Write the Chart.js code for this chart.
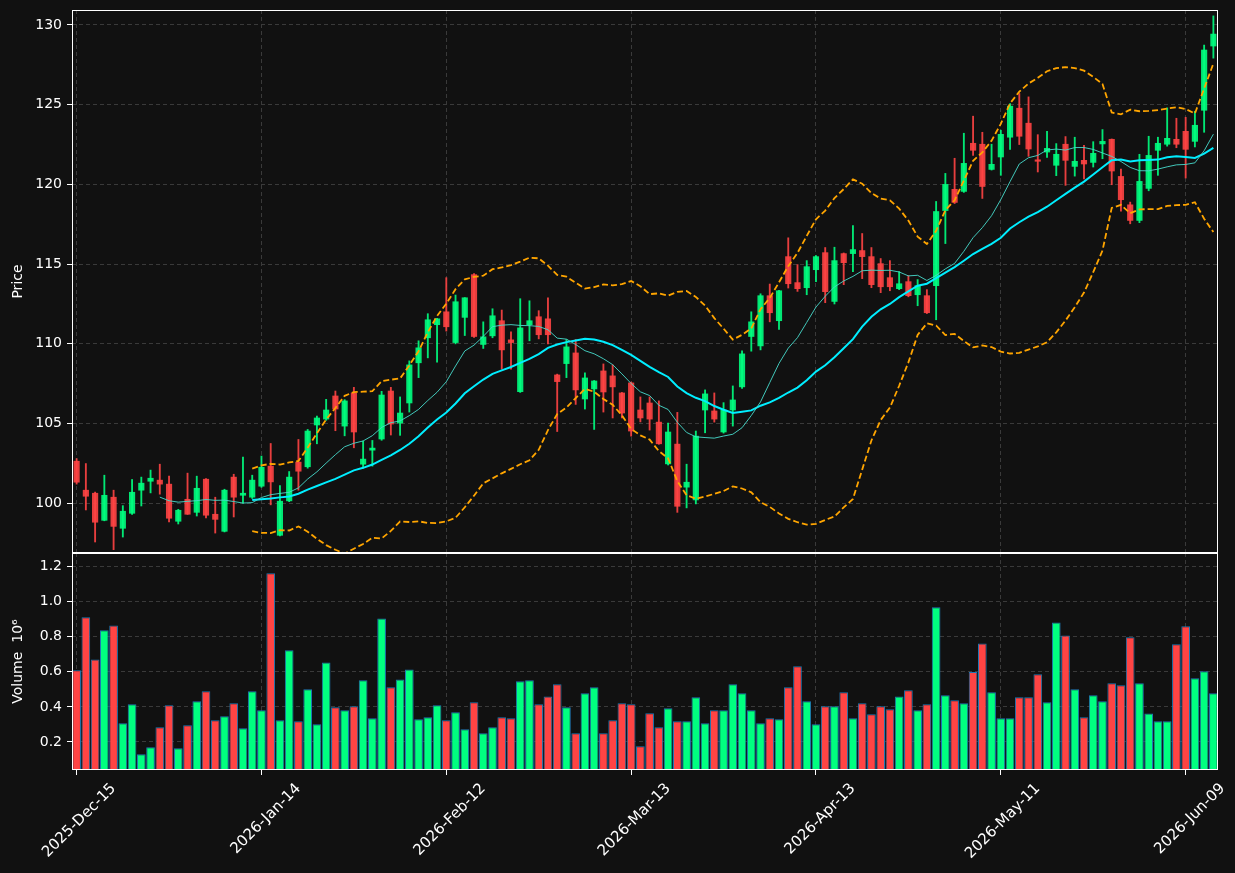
<!DOCTYPE html>
<html>
<head>
<meta charset="utf-8">
<script src="https://cdn.jsdelivr.net/npm/chart.js@4"></script>
<style>
html, body { margin: 0; padding: 0; background: #111111; }
#wrap { position: relative; width: 1235px; height: 873px; }
#priceChart { position: absolute; left: 0; top: 0; }
#volChart { position: absolute; left: 0; top: 553px; }
</style>
</head>
<body>
<div id="wrap">
  <canvas id="priceChart" width="1235" height="553"></canvas>
  <canvas id="volChart" width="1235" height="320"></canvas>
</div>
<script>
var dates = [
  '2025-Dec-15','2025-Dec-16','2025-Dec-17','2025-Dec-18','2025-Dec-19','2025-Dec-22','2025-Dec-23','2025-Dec-24','2025-Dec-26','2025-Dec-29','2025-Dec-30','2025-Dec-31',
  '2026-Jan-02','2026-Jan-05','2026-Jan-06','2026-Jan-07','2026-Jan-08','2026-Jan-09','2026-Jan-12','2026-Jan-13','2026-Jan-14','2026-Jan-15','2026-Jan-16','2026-Jan-20','2026-Jan-21','2026-Jan-22','2026-Jan-23','2026-Jan-26','2026-Jan-27','2026-Jan-28','2026-Jan-29','2026-Jan-30',
  '2026-Feb-02','2026-Feb-03','2026-Feb-04','2026-Feb-05','2026-Feb-06','2026-Feb-09','2026-Feb-10','2026-Feb-11','2026-Feb-12','2026-Feb-13','2026-Feb-17','2026-Feb-18','2026-Feb-19','2026-Feb-20','2026-Feb-23','2026-Feb-24','2026-Feb-25','2026-Feb-26','2026-Feb-27',
  '2026-Mar-02','2026-Mar-03','2026-Mar-04','2026-Mar-05','2026-Mar-06','2026-Mar-09','2026-Mar-10','2026-Mar-11','2026-Mar-12','2026-Mar-13','2026-Mar-16','2026-Mar-17','2026-Mar-18','2026-Mar-19','2026-Mar-20','2026-Mar-23','2026-Mar-24','2026-Mar-25','2026-Mar-26','2026-Mar-27','2026-Mar-30','2026-Mar-31',
  '2026-Apr-01','2026-Apr-02','2026-Apr-06','2026-Apr-07','2026-Apr-08','2026-Apr-09','2026-Apr-10','2026-Apr-13','2026-Apr-14','2026-Apr-15','2026-Apr-16','2026-Apr-17','2026-Apr-20','2026-Apr-21','2026-Apr-22','2026-Apr-23','2026-Apr-24','2026-Apr-27','2026-Apr-28','2026-Apr-29','2026-Apr-30',
  '2026-May-01','2026-May-04','2026-May-05','2026-May-06','2026-May-07','2026-May-08','2026-May-11','2026-May-12','2026-May-13','2026-May-14','2026-May-15','2026-May-18','2026-May-19','2026-May-20','2026-May-21','2026-May-22','2026-May-26','2026-May-27','2026-May-28','2026-May-29',
  '2026-Jun-01','2026-Jun-02','2026-Jun-03','2026-Jun-04','2026-Jun-05','2026-Jun-08','2026-Jun-09','2026-Jun-10','2026-Jun-11','2026-Jun-12'
];

var opens = [
  102.64, 100.82, 100.63, 98.93, 100.38, 98.43, 99.37, 100.82, 101.38, 101.45,
  101.2, 98.87, 100.25, 99.43, 101.51, 99.31, 98.24, 101.64, 100.5, 100.38,
  101.07, 102.33, 97.99, 100.15, 102.58, 102.29, 104.91, 105.28, 106.73, 104.84,
  106.92, 102.45, 103.33, 104.03, 107.04, 105.03, 106.29, 108.81, 110.38, 111.2,
  112.01, 110.08, 111.66, 114.34, 109.96, 110.5, 111.45, 110.25, 107.0, 111.2,
  111.7, 111.57, 108.05, 108.76, 109.43, 106.54, 107.17, 108.3, 107.99, 106.92,
  107.55, 105.85, 106.29, 105.09, 102.47, 103.71, 101.01, 100.21, 105.85, 105.79,
  104.47, 105.85, 107.3, 110.46, 109.87, 113.02, 111.45, 115.47, 113.84, 113.52,
  114.65, 115.72, 112.66, 115.66, 115.66, 115.85, 115.47, 115.03, 114.15, 113.46,
  113.9, 113.08, 113.02, 113.65, 118.36, 119.69, 119.56, 122.58, 122.52, 120.94,
  121.72, 122.96, 124.78, 123.84, 121.5, 122.03, 121.2, 122.52, 121.13, 121.51,
  121.38, 122.54, 122.83, 120.5, 118.72, 117.74, 119.75, 122.14, 122.52, 122.83,
  123.33, 122.7, 124.65, 128.68
];
var highs = [
  102.8, 102.49, 100.7, 101.76, 100.82, 99.85, 101.49, 101.64, 102.08, 102.45,
  101.7, 99.62, 101.89, 101.7, 101.55, 100.38, 100.88, 101.82, 102.89, 101.76,
  102.96, 103.75, 101.11, 101.99, 104.0, 104.63, 105.47, 106.52, 107.04, 106.5,
  107.27, 103.9, 103.94, 107.02, 107.27, 106.67, 108.93, 110.19, 111.89, 111.6,
  114.15, 113.06, 112.9, 114.4, 111.38, 112.2, 112.12, 110.75, 112.83, 112.7,
  112.08, 112.89, 108.1, 110.27, 110.27, 108.18, 107.7, 108.74, 108.68, 106.95,
  107.6, 106.67, 106.67, 106.42, 105.03, 105.7, 102.45, 104.53, 107.11, 106.92,
  106.31, 107.36, 109.56, 112.01, 113.14, 113.75, 113.35, 116.65, 114.97, 115.22,
  115.53, 116.04, 116.06, 115.7, 117.42, 116.92, 116.04, 115.35, 115.22, 114.53,
  114.28, 114.03, 113.4, 118.93, 120.69, 121.64, 123.21, 124.28, 123.27, 122.52,
  123.4, 125.07, 125.7, 125.49, 123.12, 123.33, 122.56, 123.0, 122.96, 122.45,
  122.68, 123.44, 122.85, 120.96, 118.89, 121.89, 123.02, 122.96, 124.8, 124.15,
  124.21, 124.59, 128.74, 130.57
];
var lows = [
  101.2, 99.58, 97.57, 98.9, 97.09, 97.88, 99.3, 99.83, 100.65, 100.57,
  98.83, 98.7, 99.3, 99.2, 99.08, 98.13, 98.2, 99.14, 100.0, 100.3,
  101.0, 99.9, 97.95, 100.1, 100.82, 102.2, 103.73, 105.2, 104.55, 104.23,
  103.48, 102.2, 102.33, 103.95, 104.28, 104.26, 105.72, 107.88, 109.12, 108.85,
  110.8, 110.0, 110.52, 110.4, 109.71, 110.38, 108.41, 108.41, 106.95, 110.19,
  110.31, 110.0, 104.5, 107.88, 106.2, 105.91, 104.63, 105.72, 105.35, 105.35,
  104.21, 105.1, 104.59, 103.7, 102.4, 99.43, 99.71, 99.96, 104.42, 105.09,
  104.4, 104.84, 107.2, 109.54, 109.62, 111.38, 110.9, 113.5, 113.29, 113.08,
  113.9, 112.58, 112.5, 113.71, 114.53, 114.09, 113.52, 113.21, 113.33, 113.4,
  112.95, 112.39, 111.9, 111.51, 116.29, 118.8, 119.5, 121.82, 119.12, 120.9,
  120.57, 122.2, 122.5, 121.76, 120.78, 121.7, 120.55, 119.94, 120.52, 120.34,
  121.09, 121.61, 119.98, 118.32, 117.53, 117.6, 119.6, 120.57, 122.4, 122.3,
  120.4, 122.35, 123.27, 127.92
];
var closes = [
  101.32, 100.44, 98.81, 100.5, 98.55, 99.5, 100.69, 101.26, 101.57, 101.2,
  99.06, 99.56, 99.31, 100.94, 99.25, 98.99, 100.82, 100.38, 100.63, 101.45,
  102.26, 101.34, 100.13, 101.64, 102.01, 104.53, 105.35, 105.85, 105.91, 106.42,
  104.47, 102.77, 103.46, 106.79, 104.97, 105.66, 108.68, 109.75, 111.51, 111.57,
  111.07, 112.64, 112.89, 110.46, 110.44, 111.76, 109.62, 110.08, 111.0, 111.45,
  110.57, 110.57, 107.63, 109.81, 107.11, 107.86, 107.67, 106.98, 107.3, 105.66,
  104.53, 105.35, 105.28, 103.73, 104.47, 99.81, 101.32, 104.21, 106.86, 105.28,
  105.85, 106.48, 109.37, 111.38, 113.02, 111.95, 113.33, 113.77, 113.46, 114.84,
  115.47, 113.27, 115.22, 115.09, 115.91, 115.47, 113.71, 113.58, 113.58, 113.77,
  113.02, 113.65, 111.95, 118.3, 120.0, 118.87, 121.32, 122.14, 119.87, 121.26,
  123.14, 124.91, 123.02, 122.22, 121.45, 122.26, 121.89, 121.51, 121.45, 121.28,
  121.95, 122.7, 120.84, 119.04, 117.74, 120.19, 121.82, 122.58, 122.89, 122.52,
  122.2, 123.71, 128.43, 129.43
];
// volume in millions
var volumes = [
  0.609, 0.911, 0.671, 0.837, 0.865, 0.306, 0.415, 0.130, 0.170, 0.284,
  0.409, 0.164, 0.295, 0.432, 0.489, 0.324, 0.346, 0.421, 0.278, 0.489,
  0.381, 1.162, 0.324, 0.723, 0.318, 0.500, 0.301, 0.654, 0.398, 0.381,
  0.403, 0.552, 0.335, 0.905, 0.512, 0.557, 0.614, 0.329, 0.341, 0.409,
  0.324, 0.369, 0.272, 0.426, 0.249, 0.284, 0.341, 0.335, 0.546, 0.552,
  0.415, 0.460, 0.529, 0.398, 0.249, 0.478, 0.512, 0.249, 0.324, 0.421,
  0.415, 0.175, 0.364, 0.284, 0.392, 0.318, 0.318, 0.455, 0.306, 0.381,
  0.381, 0.529, 0.478, 0.381, 0.306, 0.335, 0.329, 0.512, 0.632, 0.432,
  0.301, 0.403, 0.403, 0.483, 0.335, 0.421, 0.358, 0.403, 0.386, 0.460,
  0.495, 0.381, 0.415, 0.968, 0.466, 0.438, 0.421, 0.599, 0.762, 0.483,
  0.335, 0.335, 0.455, 0.455, 0.586, 0.426, 0.882, 0.808, 0.500, 0.341,
  0.466, 0.432, 0.535, 0.524, 0.798, 0.535, 0.363, 0.318, 0.318, 0.757,
  0.860, 0.563, 0.603, 0.478
];

// moving averages / bollinger bands, same as the plotting lib does it
function rollingMean(arr, n) {
  return arr.map(function(v, i) {
    if (i < n - 1) return null;
    var s = 0;
    for (var k = i - n + 1; k <= i; k++) s += arr[k];
    return s / n;
  });
}
function rollingStd(arr, n) {
  var m = rollingMean(arr, n);
  return arr.map(function(v, i) {
    if (i < n - 1) return null;
    var s = 0;
    for (var k = i - n + 1; k <= i; k++) s += (arr[k] - m[i]) * (arr[k] - m[i]);
    return Math.sqrt(s / (n - 1));
  });
}
var ma10 = rollingMean(closes, 10);
var ma20 = rollingMean(closes, 20);
var sd20 = rollingStd(closes, 20);
var bbUpper = ma20.map(function(m, i) { return m === null ? null : m + 2 * sd20[i]; });
var bbLower = ma20.map(function(m, i) { return m === null ? null : m - 2 * sd20[i]; });

var isUp = closes.map(function(c, i) { return c >= opens[i]; });
var candleColors = isUp.map(function(u) { return u ? 'rgba(0,255,128,0.9)' : 'rgba(255,68,68,0.9)'; });
var volColors = isUp.map(function(u) { return u ? '#00ff80' : '#ff4444'; });

Chart.defaults.font.family = 'DejaVu Sans';
Chart.defaults.font.size = 14;
Chart.defaults.color = '#ffffff';

var gridColor = '#3a3a3a';
var noColor = 'rgba(0,0,0,0)';
function xGrid(c) { return c.index % 20 === 0 ? gridColor : noColor; }
function xTick(c) { return c.index % 20 === 0 ? '#ffffff' : noColor; }

// fixed axis boxes so both panels line up like the subplots do
function fixY(s) {
  s.width = 72;
  s.paddingTop = 0; s.paddingBottom = 0; s.paddingLeft = 0; s.paddingRight = 0;
}
function fixX(h) {
  return function(s) {
    s.height = h;
    s.paddingTop = 0; s.paddingBottom = 0; s.paddingLeft = 0; s.paddingRight = 0;
  };
}

var frame = {
  id: 'frame',
  afterDraw: function(chart) {
    var a = chart.chartArea, g = chart.ctx;
    g.save();
    g.strokeStyle = '#ffffff';
    g.lineWidth = 1;
    g.strokeRect(Math.round(a.left) + 0.5, Math.round(a.top) + 0.5,
      Math.round(a.right - a.left) - 1, Math.round(a.bottom - a.top) - 1);
    g.restore();
  }
};

var ohlcWick = lows.map(function(l, i) { return [l, highs[i]]; });
var ohlcBody = opens.map(function(o, i) { return [o, closes[i]]; });

var priceChart = new Chart(document.getElementById('priceChart'), {
  type: 'bar',
  data: {
    labels: dates,
    datasets: [{
      type: 'line', label: 'MA10', data: ma10,
      borderColor: 'rgba(72,220,205,0.9)', borderWidth: 1, pointRadius: 0, tension: 0, order: 1
    }, {
      type: 'line', label: 'MA20', data: ma20,
      borderColor: '#00eeff', borderWidth: 2, pointRadius: 0, tension: 0, order: 1
    }, {
      type: 'line', label: 'BB upper', data: bbUpper,
      borderColor: '#ffa500', borderWidth: 1.8, borderDash: [6, 3], pointRadius: 0, tension: 0, order: 0
    }, {
      type: 'line', label: 'BB lower', data: bbLower,
      borderColor: '#ffa500', borderWidth: 1.8, borderDash: [6, 3], pointRadius: 0, tension: 0, order: 0
    }, {
      label: 'wick', data: ohlcWick, backgroundColor: candleColors,
      barThickness: 1.2, grouped: false, order: 3
    }, {
      label: 'body', data: ohlcBody, backgroundColor: candleColors,
      barThickness: 5.5, minBarLength: 1.5, grouped: false, order: 2
    }]
  },
  options: {
    responsive: false,
    animation: false,
    layout: { padding: { top: 10, right: 17, left: 0, bottom: 0 } },
    plugins: { legend: { display: false }, tooltip: { enabled: false } },
    scales: {
      x: {
        offset: true,
        grid: { offset: false, color: xGrid, drawTicks: false },
        border: { display: false, dash: [4, 3] },
        ticks: { display: false, autoSkip: false },
        afterFit: fixX(0)
      },
      y: {
        min: 96.88,
        max: 130.94,
        ticks: {
          stepSize: 5, includeBounds: false, padding: 5, color: '#ffffff',
          callback: function(v) { return v.toFixed(0); }
        },
        grid: { color: gridColor, tickColor: '#ffffff', tickLength: 5, tickBorderDash: [] },
        border: { display: false, dash: [4, 3] },
        title: { display: true, text: 'Price', color: '#ffffff', padding: { top: 10, bottom: 0 } },
        afterFit: fixY
      }
    }
  },
  plugins: [frame]
});

var volChart = new Chart(document.getElementById('volChart'), {
  type: 'bar',
  data: {
    labels: dates,
    datasets: [{
      label: 'Volume', data: volumes,
      backgroundColor: volColors, borderColor: '#1f77b4', borderWidth: 1,
      barPercentage: 0.94, categoryPercentage: 1
    }]
  },
  options: {
    responsive: false,
    animation: false,
    layout: { padding: { top: 0, right: 17, left: 0, bottom: 0 } },
    plugins: { legend: { display: false }, tooltip: { enabled: false } },
    scales: {
      x: {
        offset: true,
        grid: { offset: false, color: xGrid, tickColor: xTick, tickLength: 5, tickBorderDash: [] },
        border: { display: false, dash: [4, 3] },
        ticks: {
          autoSkip: false, maxRotation: 45, minRotation: 45, labelOffset: 37, padding: 5,
          color: '#ffffff', font: { size: 15 },
          callback: function(v, i) { return i % 20 === 0 ? dates[i] : ''; }
        },
        afterFit: fixX(103)
      },
      y: {
        min: 0.04,
        max: 1.278,
        ticks: {
          stepSize: 0.2, includeBounds: false, padding: 5, color: '#ffffff',
          callback: function(v) { return v.toFixed(1); }
        },
        grid: { color: gridColor, tickColor: '#ffffff', tickLength: 5, tickBorderDash: [] },
        border: { display: false, dash: [4, 3] },
        title: { display: true, text: 'Volume  10\u2076', color: '#ffffff', padding: { top: 10, bottom: 0 } },
        afterFit: fixY
      }
    }
  },
  plugins: [frame]
});
</script>
</body>
</html>
